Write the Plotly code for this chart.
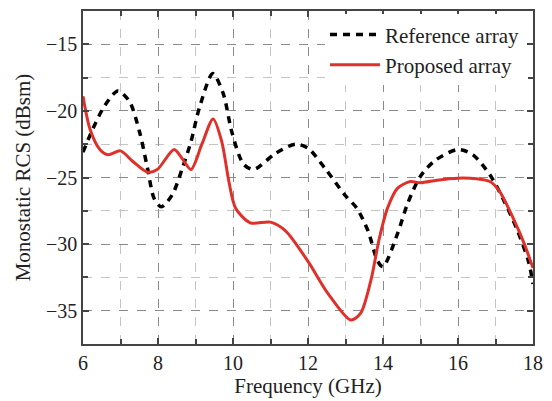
import plotly.graph_objects as go

# Reference array (black dashed)
ref_f = [6.0, 6.27, 6.58, 6.93, 7.24, 7.51, 7.72, 7.9, 8.09, 8.38, 8.65, 8.88, 9.1, 9.46, 9.74, 9.97,
         10.28, 10.55, 11.13, 11.66, 12.0, 12.45, 12.98, 13.3, 13.6, 13.86, 14.0, 14.39, 14.65, 15.0,
         15.4, 16.0, 16.4, 16.85, 17.2, 17.56, 17.88, 18.0]
ref_v = [-23.1, -21.3, -19.6, -18.5, -19.3, -21.6, -24.3, -26.6, -27.2, -26.3, -24.3, -22.3, -19.8, -17.2,
         -18.7, -21.6, -24.0, -24.4, -23.2, -22.5, -22.8, -24.3, -26.3, -27.3, -29.0, -31.3, -31.7, -29.2,
         -27.0, -24.9, -23.7, -22.9, -23.3, -24.8, -26.6, -28.8, -31.3, -33.0]

# Proposed array (red solid)
pro_f = [6.0, 6.19, 6.45, 6.67, 7.0, 7.33, 7.72, 7.98, 8.43, 8.65, 8.88, 9.17, 9.47, 9.7, 9.89, 10.07,
         10.46, 11.0, 11.4, 12.0, 12.53, 13.14, 13.4, 13.67, 13.9, 14.12, 14.39, 14.73, 15.0, 15.44,
         16.0, 16.5, 16.85, 17.1, 17.48, 17.77, 18.0]
pro_v = [-18.9, -21.4, -22.9, -23.3, -23.0, -23.8, -24.6, -24.4, -22.9, -23.6, -24.4, -22.5, -20.6, -22.3,
         -25.3, -27.3, -28.4, -28.35, -29.0, -31.3, -33.7, -35.7, -35.2, -32.8, -29.6, -27.3, -25.8,
         -25.3, -25.4, -25.2, -25.05, -25.1, -25.3, -26.0, -28.1, -30.0, -31.8]

x_ticks = [6, 8, 10, 12, 14, 16, 18]
y_ticks = [-15, -20, -25, -30, -35]

fig = go.Figure()
fig.add_trace(go.Scatter(x=ref_f, y=ref_v, mode="lines", name="Reference array",
                         line=dict(color="black", width=3.5, dash="7px,6px", shape="spline", smoothing=0.8)))
fig.add_trace(go.Scatter(x=pro_f, y=pro_v, mode="lines", name="Proposed array",
                         line=dict(color="#E0302A", width=3, shape="spline", smoothing=0.8)))

font_family = "Liberation Serif, Times New Roman, serif"
axis_common = dict(
    showline=True, linecolor="#444", linewidth=1.5, mirror="ticks",
    ticks="inside", ticklen=6, tickwidth=1.5, tickcolor="#444",
    showgrid=True, gridcolor="#8a8a8a", griddash="dash", gridwidth=1,
    zeroline=False,
    tickfont=dict(family=font_family, size=20, color="#222"),
)

fig.update_xaxes(**axis_common, range=[6, 18], tickvals=x_ticks, ticktext=[str(v) for v in x_ticks],
                 minor=dict(dtick=1, tick0=6, ticks="inside", ticklen=5, tickcolor="#444", showgrid=True,
                            gridcolor="#c4c4c4", griddash="dash", gridwidth=1),
                 title=dict(text="Frequency (GHz)", font=dict(family=font_family, size=21, color="#222"), standoff=4))
fig.update_yaxes(**axis_common, range=[-37.5, -12.5], tickvals=y_ticks, ticktext=["\u2212" + str(abs(v)) for v in y_ticks],
                 minor=dict(dtick=2.5, tick0=-37.5, ticks="inside", ticklen=5, tickcolor="#444", showgrid=True,
                            gridcolor="#c4c4c4", griddash="dash", gridwidth=1),
                 title=dict(text="Monostatic RCS (dBsm)", font=dict(family=font_family, size=21, color="#222"), standoff=10))

fig.update_layout(
    width=552, height=401,
    margin=dict(l=83, r=15, t=9, b=57),
    paper_bgcolor="white", plot_bgcolor="white",
    showlegend=True,
    legend=dict(x=0.98, y=0.99, xanchor="right", yanchor="top", bgcolor="white",
                font=dict(family=font_family, size=21, color="#222"),
                itemwidth=50, tracegroupgap=0),
)

fig.write_html("out.html")
